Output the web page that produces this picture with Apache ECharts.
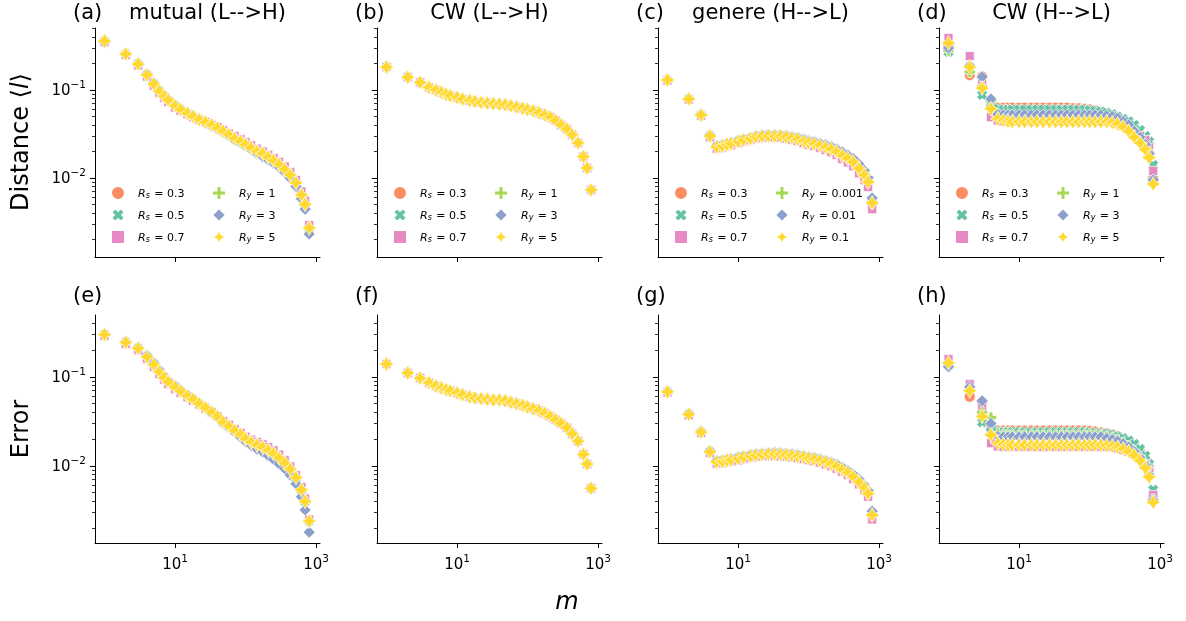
<!DOCTYPE html>
<html>
<head>
<meta charset="utf-8">
<script src="https://cdn.jsdelivr.net/npm/echarts@6/dist/echarts.min.js"></script>
<style>
  html, body { margin: 0; padding: 0; background: #fff; }
  #main { width: 1186px; height: 621px; }
</style>
</head>
<body>
<div id="main"></div>
<script>
// m values (shared x grid)
var M = [1,2,3,4,5,6,7,8,10,12,15,18,22,27,33,40,48,58,70,85,100,120,145,175,210,250,300,360,430,520,620,700,800];

// (a) Distance, mutual (L-->H)
var aMid  = [0.36,0.257,0.197,0.148,0.117,0.097,0.085,0.077,0.066,0.060,0.054,0.050,0.046,0.043,0.040,0.037,0.034,0.031,0.028,0.026,0.024,0.022,0.020,0.019,0.0172,0.0158,0.0142,0.0125,0.0108,0.0088,0.0064,0.0050,0.0027];
var aPink = [0.35,0.25,0.19,0.142,0.111,0.092,0.081,0.073,0.063,0.058,0.053,0.049,0.046,0.043,0.040,0.038,0.035,0.032,0.030,0.0275,0.0255,0.0235,0.0215,0.020,0.0183,0.0168,0.0152,0.0135,0.0117,0.0095,0.0070,0.0055,0.0029];
var aBlue = [0.35,0.255,0.2,0.153,0.121,0.1,0.088,0.079,0.068,0.061,0.055,0.050,0.046,0.042,0.039,0.036,0.033,0.030,0.027,0.025,0.023,0.021,0.019,0.0175,0.016,0.0147,0.0132,0.0116,0.0099,0.0080,0.0058,0.0044,0.0023];
// (b) Distance, CW (L-->H)
var bAll = [0.182,0.140,0.122,0.107,0.100,0.094,0.089,0.086,0.082,0.079,0.076,0.074,0.072,0.071,0.070,0.069,0.068,0.066,0.064,0.062,0.060,0.058,0.055,0.052,0.049,0.045,0.040,0.036,0.031,0.025,0.0175,0.0130,0.0073];
// (c) Distance, genere (H-->L)
var cMid  = [0.130,0.079,0.052,0.030,0.0225,0.023,0.024,0.0245,0.026,0.027,0.028,0.0293,0.0297,0.030,0.030,0.0298,0.0292,0.0285,0.0275,0.026,0.0252,0.0245,0.0235,0.0222,0.0212,0.0198,0.018,0.0167,0.0152,0.0128,0.0108,0.0090,0.0052];
var cPink = [0.128,0.078,0.051,0.029,0.0215,0.022,0.0228,0.0235,0.025,0.026,0.027,0.028,0.0285,0.0288,0.0288,0.0285,0.028,0.0272,0.0262,0.0248,0.0238,0.023,0.022,0.0207,0.0196,0.0182,0.0164,0.015,0.0136,0.0113,0.0094,0.0079,0.0044];
var cBlue = [0.131,0.080,0.053,0.031,0.0235,0.024,0.025,0.0255,0.027,0.028,0.029,0.0303,0.031,0.0313,0.0313,0.031,0.0305,0.0298,0.029,0.0277,0.0268,0.026,0.025,0.0238,0.0227,0.0213,0.0197,0.0182,0.0166,0.0143,0.0121,0.0101,0.0059];
// (d) Distance, CW (H-->L)
var dOrange = [0.32,0.148,0.142,0.064,0.063, 0.063,0.063,0.063,0.063,0.063, 0.063,0.063,0.063,0.063,0.063, 0.063,0.063,0.062,0.062,0.061, 0.060,0.058,0.056,0.054,0.051, 0.048,0.044,0.040,0.035,0.030, 0.024,0.019,0.0098];
var dGreen  = [0.27,0.17,0.088,0.068,0.061, 0.060,0.060,0.060,0.060,0.060, 0.060,0.060,0.060,0.060,0.060, 0.060,0.060,0.060,0.060,0.060, 0.059,0.058,0.057,0.055,0.053, 0.050,0.047,0.044,0.040,0.035, 0.030,0.026,0.014];
var dPink   = [0.39,0.243,0.12,0.049,0.045, 0.044,0.044,0.044,0.044,0.044, 0.044,0.044,0.044,0.044,0.044, 0.044,0.044,0.044,0.044,0.044, 0.044,0.044,0.044,0.044,0.043, 0.041,0.039,0.036,0.033,0.030, 0.027,0.022,0.012];
var dLime   = [0.28,0.16,0.11,0.075,0.050, 0.048,0.048,0.048,0.048,0.048, 0.048,0.048,0.048,0.048,0.048, 0.048,0.048,0.048,0.048,0.048, 0.048,0.048,0.048,0.047,0.046, 0.044,0.041,0.037,0.032,0.027, 0.022,0.018,0.0092];
var dBlue   = [0.30,0.19,0.141,0.079,0.053, 0.052,0.052,0.052,0.052,0.052, 0.052,0.052,0.052,0.052,0.052, 0.052,0.052,0.052,0.052,0.052, 0.052,0.052,0.052,0.051,0.050, 0.048,0.044,0.040,0.034,0.029, 0.024,0.019,0.0095];
var dYellow = [0.342,0.182,0.105,0.061,0.047, 0.045,0.044,0.0435,0.0435,0.0435, 0.0435,0.0435,0.0435,0.0435,0.0435, 0.0435,0.0435,0.0435,0.0435,0.0435, 0.0435,0.0435,0.0435,0.0435,0.0425, 0.041,0.038,0.034,0.029,0.025, 0.021,0.017,0.0085];
// (e) Error, mutual (L-->H)
var eMid  = [0.30,0.245,0.21,0.168,0.138,0.114,0.098,0.088,0.077,0.069,0.061,0.056,0.050,0.045,0.040,0.036,0.031,0.028,0.025,0.0225,0.0202,0.0185,0.0172,0.0162,0.015,0.0138,0.0123,0.0108,0.0092,0.0074,0.0054,0.0040,0.0024];
var ePink = [0.29,0.235,0.2,0.16,0.13,0.107,0.093,0.083,0.073,0.066,0.059,0.054,0.049,0.044,0.040,0.036,0.032,0.029,0.026,0.0235,0.0213,0.0197,0.0185,0.0175,0.0163,0.015,0.0134,0.0117,0.0099,0.0079,0.0058,0.0043,0.0025];
var eBlue = [0.30,0.25,0.215,0.175,0.145,0.12,0.103,0.092,0.080,0.071,0.063,0.057,0.050,0.045,0.039,0.035,0.030,0.027,0.024,0.021,0.0187,0.017,0.0155,0.0143,0.013,0.0118,0.0105,0.0093,0.0079,0.0063,0.0045,0.0032,0.0018];
// (f) Error, CW (L-->H)
var fAll = [0.140,0.111,0.097,0.086,0.079,0.075,0.072,0.070,0.066,0.063,0.060,0.058,0.057,0.056,0.055,0.055,0.054,0.052,0.050,0.048,0.046,0.044,0.042,0.039,0.036,0.033,0.030,0.027,0.023,0.019,0.0135,0.0105,0.0056];
// (g) Error, genere (H-->L)
var gMid  = [0.068,0.038,0.024,0.0144,0.0111,0.0112,0.0115,0.0117,0.0121,0.0125,0.0129,0.0132,0.0134,0.0136,0.0136,0.0135,0.0133,0.0131,0.0128,0.0126,0.0122,0.0119,0.0115,0.011,0.0105,0.0099,0.0091,0.0084,0.0076,0.0066,0.0057,0.0049,0.0028];
var gPink = [0.067,0.037,0.0235,0.014,0.0106,0.0107,0.011,0.0112,0.0115,0.0119,0.0123,0.0126,0.0128,0.0129,0.0129,0.0128,0.0127,0.0125,0.0122,0.0119,0.0116,0.0113,0.0109,0.0104,0.0099,0.0093,0.0086,0.0079,0.0071,0.0062,0.0053,0.0045,0.0025];
var gBlue = [0.069,0.039,0.0245,0.0149,0.0116,0.0117,0.0120,0.0122,0.0127,0.0131,0.0135,0.0138,0.0140,0.0142,0.0143,0.0142,0.0140,0.0138,0.0135,0.0132,0.0128,0.0125,0.0121,0.0116,0.0111,0.0105,0.0097,0.0089,0.0081,0.0071,0.0061,0.0053,0.0031];
// (h) Error, CW (H-->L)
var hOrange = [0.135,0.060,0.052,0.026,0.025, 0.025,0.025,0.025,0.025,0.025, 0.025,0.025,0.025,0.025,0.025, 0.025,0.025,0.025,0.025,0.025, 0.0247,0.0243,0.0238,0.0232,0.0225, 0.0215,0.0203,0.0188,0.0168,0.0145, 0.0118,0.0092,0.0045];
var hGreen  = [0.135,0.075,0.031,0.027,0.0245, 0.024,0.024,0.024,0.024,0.024, 0.024,0.024,0.024,0.024,0.024, 0.024,0.024,0.024,0.024,0.024, 0.0238,0.0236,0.0233,0.0229,0.0223, 0.0215,0.0205,0.0193,0.0176,0.0155, 0.013,0.0105,0.0054];
var hPink   = [0.159,0.083,0.045,0.018,0.0165, 0.0164,0.0164,0.0164,0.0164,0.0164, 0.0164,0.0164,0.0164,0.0164,0.0164, 0.0164,0.0164,0.0164,0.0164,0.0164, 0.0164,0.0164,0.0164,0.0164,0.0164, 0.0158,0.0152,0.0145,0.0135,0.012, 0.0103,0.0088,0.0047];
var hLime   = [0.135,0.072,0.040,0.035,0.023, 0.022,0.022,0.022,0.022,0.022, 0.022,0.022,0.022,0.022,0.022, 0.022,0.022,0.022,0.022,0.022, 0.022,0.022,0.022,0.0212,0.0205, 0.0195,0.0182,0.0166,0.0147,0.0125, 0.0102,0.0080,0.0042];
var hBlue   = [0.13,0.077,0.054,0.030,0.0215, 0.0212,0.0212,0.0212,0.0212,0.0212, 0.0212,0.0212,0.0212,0.0212,0.0212, 0.0212,0.0212,0.0212,0.0212,0.0212, 0.0212,0.0212,0.0212,0.0205,0.0198, 0.019,0.0178,0.0163,0.0145,0.0124, 0.0101,0.0079,0.0041];
var hYellow = [0.144,0.070,0.036,0.0223,0.018, 0.0174,0.0172,0.0172,0.0172,0.0172, 0.0172,0.0172,0.0172,0.0172,0.0172, 0.0172,0.0172,0.0172,0.0172,0.0172, 0.0172,0.0172,0.0172,0.017,0.0167, 0.0162,0.0155,0.0145,0.0132,0.0115, 0.0095,0.0075,0.0039];

var rsNames = ["Rs=0.3", "Rs=0.5", "Rs=0.7"];
var ryNamesA = ["Ry=1", "Ry=3", "Ry=5"];
var ryNamesC = ["Ry=0.001", "Ry=0.01", "Ry=0.1"];

var xTicks = [10, 1000];
var yTicks = [0.01, 0.1];
var yMinorTop = [0.002,0.003,0.004,0.005,0.006,0.007,0.008,0.009,0.02,0.03,0.04,0.05,0.06,0.07,0.08,0.09,0.2,0.3,0.4,0.5];
var yMinorBot = [0.002,0.003,0.004,0.005,0.006,0.007,0.008,0.009,0.02,0.03,0.04,0.05,0.06,0.07,0.08,0.09,0.2,0.3,0.4];

var panels = [
  { tag: "(a)", title: "mutual (L-->H)", ry: ryNamesA, data: [aMid, aMid, aPink, aMid, aBlue, aMid] },
  { tag: "(b)", title: "CW (L-->H)", ry: ryNamesA, data: [bAll, bAll, bAll, bAll, bAll, bAll] },
  { tag: "(c)", title: "genere (H-->L)", ry: ryNamesC, data: [cMid, cMid, cPink, cMid, cBlue, cMid] },
  { tag: "(d)", title: "CW (H-->L)", ry: ryNamesA, data: [dOrange, dGreen, dPink, dLime, dBlue, dYellow] },
  { tag: "(e)", title: "", ry: ryNamesA, data: [eMid, eMid, ePink, eMid, eBlue, eMid] },
  { tag: "(f)", title: "", ry: ryNamesA, data: [fAll, fAll, fAll, fAll, fAll, fAll] },
  { tag: "(g)", title: "", ry: ryNamesC, data: [gMid, gMid, gPink, gMid, gBlue, gMid] },
  { tag: "(h)", title: "", ry: ryNamesA, data: [hOrange, hGreen, hPink, hLime, hBlue, hYellow] }
];

var FONT = "DejaVu Sans";
var colors = ["#fc8d62", "#66c2a5", "#e78ac3", "#a6d854", "#8da0cb", "#ffd92f"];
var symbols = [
  "circle",
  "path://M0,6 L6,0 L10,4 L14,0 L20,6 L16,10 L20,14 L14,20 L10,16 L6,20 L0,14 L4,10 Z",
  "rect",
  "path://M6.5,0 L13.5,0 L13.5,6.5 L20,6.5 L20,13.5 L13.5,13.5 L13.5,20 L6.5,20 L6.5,13.5 L0,13.5 L0,6.5 L6.5,6.5 Z",
  "diamond",
  "path://M10,0 L13.6,6.4 L20,10 L13.6,13.6 L10,20 L6.4,13.6 L0,10 L6.4,6.4 Z"
];
var sizes = [11, 11, 9, 11, 12, 15];

var lefts = [95, 377, 658, 939];
var tops = [28, 315];
var heights = [229, 228];
var W = 225;

var dom = document.getElementById("main");
var myChart = echarts.init(dom, null, { renderer: "canvas" });

function powLabel(v) {
  var e = Math.round(Math.log10(v));
  return "{b|10}{p|" + String(e).replace("-", "\u2212") + "}";
}
var powRich = {
  b: { fontFamily: FONT, fontSize: 15, color: "#000", verticalAlign: "bottom", lineHeight: 18 },
  p: { fontFamily: FONT, fontSize: 10.5, color: "#000", verticalAlign: "bottom", lineHeight: 12, padding: [0, 0, 8, 0] }
};

var grid = [], xAxis = [], yAxis = [], series = [], legend = [], graphic = [];

panels.forEach(function (p, k) {
  var row = k < 4 ? 0 : 1;
  var col = k % 4;
  var L = lefts[col];
  grid.push({ left: L, top: tops[row], width: W, height: heights[row], outerBoundsMode: "none" });
  xAxis.push({
    type: "log", logBase: 10, gridIndex: k, min: 0.733, max: 1138,
    axisLine: { show: true, lineStyle: { color: "#000", width: 1 } },
    axisTick: { show: true, length: 5, customValues: xTicks, lineStyle: { color: "#000", width: 1 } },
    axisLabel: { show: row === 1, customValues: xTicks, margin: 12, formatter: powLabel, rich: powRich },
    splitLine: { show: false }
  });
  var yr = row === 0 ? [0.00126, 0.507] : [0.00136, 0.497];
  yAxis.push({
    type: "log", logBase: 10, gridIndex: k, position: "left", min: yr[0], max: yr[1],
    axisLine: { show: true, lineStyle: { color: "#000", width: 1 } },
    axisTick: { show: true, length: 5, customValues: yTicks, lineStyle: { color: "#000", width: 1 } },
    axisLabel: { show: col === 0, customValues: yTicks, margin: 9, formatter: powLabel, rich: powRich },
    splitLine: { show: false }
  });
  yAxis.push({
    type: "log", logBase: 10, gridIndex: k, position: "left", offset: 0, min: yr[0], max: yr[1],
    axisLine: { show: false },
    axisTick: { show: true, length: 3, customValues: row === 0 ? yMinorTop : yMinorBot, lineStyle: { color: "#000", width: 0.8 } },
    axisLabel: { show: false },
    splitLine: { show: false }
  });
  var names = rsNames.concat(p.ry);
  p.data.forEach(function (arr, j) {
    series.push({
      type: "scatter",
      name: names[j],
      xAxisIndex: k,
      yAxisIndex: 2 * k,
      symbol: symbols[j],
      symbolSize: sizes[j],
      itemStyle: { color: colors[j], borderColor: "#fff", borderWidth: 0.7, opacity: 1 },
      emphasis: { disabled: true },
      data: M.map(function (m, i) { return [m, arr[i]]; })
    });
  });
  if (row === 0) {
    [rsNames, p.ry].forEach(function (list, c) {
      legend.push({
        orient: "vertical",
        left: L + (c === 0 ? 15 : 116),
        top: 184,
        padding: 0,
        itemWidth: 14,
        itemHeight: 14,
        itemGap: 5,
        selectedMode: false,
        data: list,
        formatter: function (name) {
          return "{g|}{r|R}{s|" + name.charAt(1) + "}{t| = " + name.slice(3) + "}";
        },
        textStyle: {
          color: "#000",
          rich: {
            g: { width: 8, lineHeight: 14 },
            r: { fontFamily: FONT, fontStyle: "italic", fontSize: 11, color: "#000", verticalAlign: "bottom", lineHeight: 14 },
            s: { fontFamily: FONT, fontStyle: "italic", fontSize: 8, color: "#000", verticalAlign: "bottom", lineHeight: 6, padding: [8, 1, 0, 0] },
            t: { fontFamily: FONT, fontSize: 11, color: "#000", verticalAlign: "bottom", lineHeight: 14 }
          }
        }
      });
    });
  }
  var ty = row === 0 ? 14 : 297;
  graphic.push({
    type: "text", x: L - 22, y: ty,
    style: { text: p.tag, font: "21px '" + FONT + "'", fill: "#000", verticalAlign: "middle", textVerticalAlign: "middle" }
  });
  if (p.title) {
    graphic.push({
      type: "text", x: L + W / 2, y: ty,
      style: { text: p.title, font: "21px '" + FONT + "'", fill: "#000", align: "center", textAlign: "center", verticalAlign: "middle", textVerticalAlign: "middle" }
    });
  }
});

graphic.push({
  type: "text", x: 22, y: 142, rotation: Math.PI / 2,
  style: {
    text: "{t|Distance \u27e8}{i|l}{t|\u27e9}",
    align: "center", verticalAlign: "middle", textAlign: "center", textVerticalAlign: "middle",
    rich: {
      t: { fontFamily: FONT, fontSize: 24, fill: "#000", color: "#000" },
      i: { fontFamily: FONT, fontSize: 24, fontStyle: "italic", fill: "#000", color: "#000" }
    }
  }
});
graphic.push({
  type: "text", x: 22, y: 429, rotation: Math.PI / 2,
  style: { text: "Error", font: "24px '" + FONT + "'", fill: "#000", align: "center", verticalAlign: "middle", textAlign: "center", textVerticalAlign: "middle" }
});
graphic.push({
  type: "text", x: 567, y: 603,
  style: { text: "m", font: "italic 24px '" + FONT + "'", fill: "#000", align: "center", verticalAlign: "middle", textAlign: "center", textVerticalAlign: "middle" }
});

var option = {
  animation: false,
  backgroundColor: "#fff",
  grid: grid,
  xAxis: xAxis,
  yAxis: yAxis,
  legend: legend,
  graphic: graphic,
  series: series
};

myChart.setOption(option);
</script>
</body>
</html>
